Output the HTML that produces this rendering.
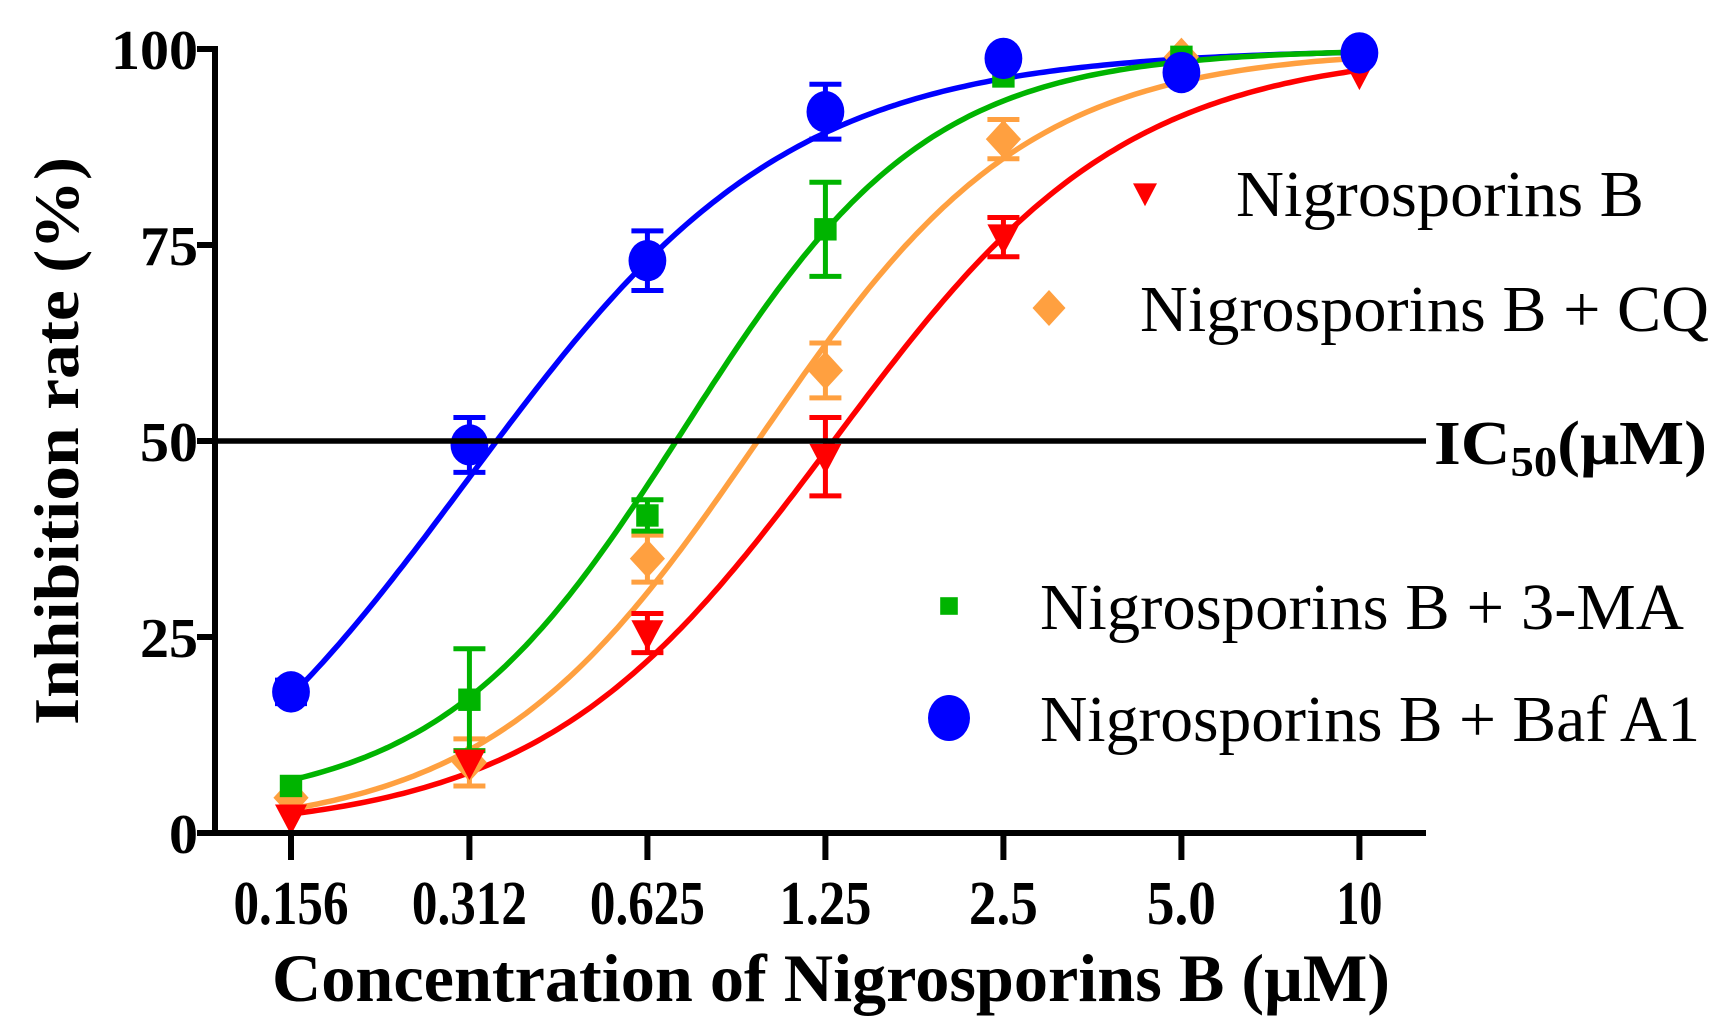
<!DOCTYPE html>
<html><head><meta charset="utf-8"><style>
html,body{margin:0;padding:0;background:#fff;}
svg{display:block;}
</style></head><body>
<svg id="chart" width="1735" height="1030" viewBox="0 0 1735 1030" xmlns="http://www.w3.org/2000/svg">
<g id="curves"></g>
<g id="points"></g>
<g id="axes"></g>
<g id="legend"></g>
</svg>
<script>
const xTickLabels = ["0.156","0.312","0.625","1.25","2.5","5.0","10"];
const concentrations = [0.156,0.3125,0.625,1.25,2.5,5,10];
const yTickValues = [0,25,50,75,100];
const seriesNames = ["Nigrosporins B","Nigrosporins B + CQ","Nigrosporins B + 3-MA","Nigrosporins B + Baf A1"];
const seriesColors = ["#ff0000","#ffa040","#00b400","#0000ff"];
const redValues = [2,9,25.5,48,76,null,97];
const redErrors = [0,0,2.5,5,2.5,0,0];
const orangeValues = [4.5,9,35,59,88.5,99,99];
const orangeErrors = [0,3,3,3.5,2.5,0,0];
const greenValues = [6,17,40.5,77,96.5,99,99];
const greenErrors = [0,6.5,2,6,0,0,0];
const blueValues = [18,49.5,73,92,98.8,97,99.5];
const blueErrors = [1.5,3.5,3.8,3.5,0,0,0];
// 4PL fit parameters: [IC50, hill, bottom, top]
const redFit = [1.29,1.75,0,100];
const orangeFit = [0.96,1.9,0,100];
const greenFit = [0.72,2.1,3,100];
const blueFit = [0.31,1.6,-10,100];
const ic50Level = 50;

const NS="http://www.w3.org/2000/svg";
const X0=291, DX=178, AX=215;
function xs(c){return X0+DX*Math.log2(c/0.156);}
function ys(v){return 833-(v/100)*(833-49);}
function el(tag,attrs,parent){const e=document.createElementNS(NS,tag);for(const k in attrs)e.setAttribute(k,attrs[k]);parent.appendChild(e);return e;}

const curves=document.getElementById('curves'),points=document.getElementById('points'),axes=document.getElementById('axes'),legend=document.getElementById('legend');
const allVals=[redValues,orangeValues,greenValues,blueValues];
const allErr=[redErrors,orangeErrors,greenErrors,blueErrors];
const allFit=[redFit,orangeFit,greenFit,blueFit];
const shapes=["tri","diamond","square","circle"];

const ic=el('line',{x1:AX,x2:1426,y1:ys(ic50Level),y2:ys(ic50Level),stroke:'#000','stroke-width':5.5},axes);



[3,2,1,0].forEach(i=>{
  const f=allFit[i];let d='';
  for(let k=0;k<=200;k++){const lx=Math.log2(0.156)+k/200*Math.log2(10/0.156);const c=Math.pow(2,lx);
    const v=f[2]+(f[3]-f[2])/(1+Math.pow(f[0]/c,f[1]));d+=(k?'L':'M')+xs(c).toFixed(1)+','+ys(v).toFixed(1);}
  const p=el('path',{d:d,fill:'none',stroke:seriesColors[i],'stroke-width':5.5},curves);
  
  
});

function marker(shape,cx,cy,color,parent,s){
  let m;
  if(shape==='tri') m=el('polygon',{points:`${cx-s},${cy-s*0.8} ${cx+s},${cy-s*0.8} ${cx},${cy+s*1.1}`,fill:color},parent);
  else if(shape==='diamond') m=el('polygon',{points:`${cx},${cy-s*1.2} ${cx+s*1.1},${cy} ${cx},${cy+s*1.2} ${cx-s*1.1},${cy}`,fill:color},parent);
  else if(shape==='square') m=el('rect',{x:cx-s*0.8,y:cy-s*0.8,width:s*1.6,height:s*1.6,fill:color},parent);
  else m=el('ellipse',{cx:cx,cy:cy,rx:s*1.05,ry:s*1.15,fill:color},parent);
  return m;
}
const msize=[16,16,14,18];
[1,2,0,3].forEach(i=>{
  allVals[i].forEach((v,j)=>{
    if(v===null)return;
    const cx=xs(concentrations[j]),cy=ys(v),e=allErr[i][j];
    if(e>0){
      const g=el('path',{d:`M${cx},${ys(v+e)}V${ys(v-e)}M${cx-16},${ys(v+e)}H${cx+16}M${cx-16},${ys(v-e)}H${cx+16}`,stroke:seriesColors[i],'stroke-width':5,fill:'none'},points);
      
      
    }
    const m=marker(shapes[i],cx,cy,seriesColors[i],points,msize[i]);
    
    
  });
});

el('line',{x1:AX,x2:AX,y1:46,y2:836,stroke:'#000','stroke-width':6},axes);
el('line',{x1:AX-3,x2:1426,y1:833,y2:833,stroke:'#000','stroke-width':6},axes);
yTickValues.forEach(v=>{
  el('line',{x1:AX-18,x2:AX,y1:ys(v),y2:ys(v),stroke:'#000','stroke-width':6},axes);
  const s=String(v);
  const t=el('text',{x:198,y:ys(v)+20,'text-anchor':'end',textLength:s.length*29,lengthAdjust:'spacingAndGlyphs','font-family':'Liberation Serif, serif','font-weight':'bold','font-size':56},axes);
  t.textContent=s;
  
  
});
xTickLabels.forEach((lab,j)=>{
  const x=xs(concentrations[j]);
  el('line',{x1:x,x2:x,y1:833,y2:860,stroke:'#000','stroke-width':6},axes);
  const t=el('text',{x:x,y:924,'text-anchor':'middle',textLength:lab.length*23,lengthAdjust:'spacingAndGlyphs','font-family':'Liberation Serif, serif','font-weight':'bold','font-size':62},axes);
  t.textContent=lab;
  
  
});
const xt=el('text',{x:272,y:1001,textLength:1118,lengthAdjust:'spacingAndGlyphs','font-family':'Liberation Serif, serif','font-weight':'bold','font-size':68},axes);
xt.textContent='Concentration of Nigrosporins B (μM)';


const yt=el('text',{x:0,y:0,textLength:568,lengthAdjust:'spacingAndGlyphs','text-anchor':'middle','font-family':'Liberation Serif, serif','font-weight':'bold','font-size':64,transform:'translate(78,441) rotate(-90)'},axes);
yt.textContent='Inhibition rate (%)';



const icT=el('text',{x:1434,y:464,'font-family':'Liberation Serif, serif','font-weight':'bold','font-size':62,textLength:273,lengthAdjust:'spacingAndGlyphs'},axes);
icT.innerHTML='IC<tspan font-size="42" dy="12">50</tspan><tspan dy="-12">(μM)</tspan>';



const legX=[1145,1049,949,949], legY=[193,308,606,718], txtX=[1236,1140,1040,1040], txtW=[408,569,644,660];
const lsize=[12,15,11,20];
seriesNames.forEach((n,i)=>{
  const m=marker(shapes[i],legX[i],legY[i],seriesColors[i],legend,lsize[i]);
  
  
  const t=el('text',{x:txtX[i],y:legY[i]+23,textLength:txtW[i],lengthAdjust:'spacingAndGlyphs','font-family':'Liberation Serif, serif','font-size':66},legend);
  t.textContent=n;
  
  
});
</script>
</body></html>
